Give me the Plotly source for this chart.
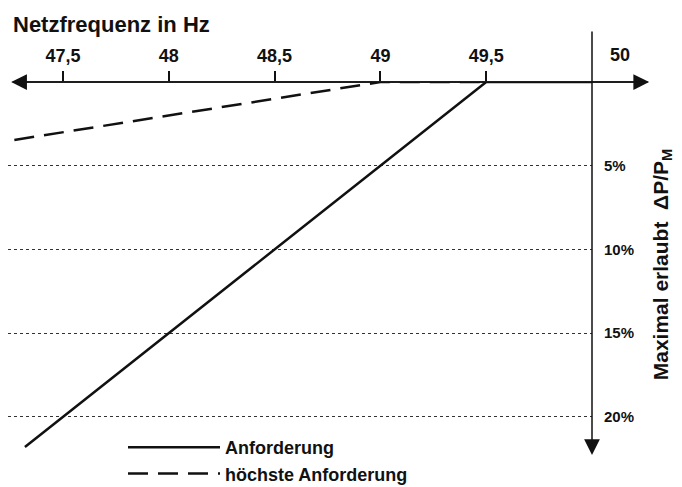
import plotly.graph_objects as go

# frequency (Hz) vs. allowed power reduction (% of P_M)
anf_hz = [47.32, 49.5, 50.0]
anf_pct = [21.8, 0.0, 0.0]
hoechst_hz = [47.27, 49.0, 49.5]
hoechst_pct = [3.46, 0.0, 0.0]

x_ticks = [47.5, 48.0, 48.5, 49.0, 49.5]
x_tick_text = ["47,5", "48", "48,5", "49", "49,5"]
y_ticks = [5, 10, 15, 20]
y_tick_text = ["5%", "10%", "15%", "20%"]

# page body adds an 8px margin, so the figure is 8px smaller than the window
W, H = 674, 479
M = dict(l=0, r=90, t=74, b=34, autoexpand=False)
PLOT_W = W - M["l"] - M["r"]
PLOT_H = H - M["t"] - M["b"]
X_RANGE = [47.24, 50.0]
Y_MAX = 22.16
PX_HZ = PLOT_W / (X_RANGE[1] - X_RANGE[0])
PX_PCT = PLOT_H / Y_MAX
FONT = "Liberation Sans, Arial, sans-serif"
INK = "#111111"


def xp(v):
    return (v - X_RANGE[0]) / (X_RANGE[1] - X_RANGE[0])


def yp(v):
    return 1 - v / Y_MAX


fig = go.Figure()
fig.add_trace(go.Scatter(
    x=anf_hz, y=anf_pct, name="Anforderung", mode="lines",
    line=dict(color=INK, width=2.5),
))
fig.add_trace(go.Scatter(
    x=hoechst_hz, y=hoechst_pct, name="höchste Anforderung", mode="lines",
    line=dict(color=INK, width=2.5, dash="20px,10px"),
))

arrow = dict(text="", showarrow=True, arrowhead=2, arrowsize=2.1, arrowwidth=1.5,
             arrowcolor=INK, xref="paper", yref="paper", axref="pixel", ayref="pixel")
left_tip, right_tip = 47.255, 50.27
fig.add_annotation(x=xp(right_tip), y=1, ax=-(right_tip - left_tip) * PX_HZ, ay=0, **arrow)
fig.add_annotation(x=xp(left_tip), y=1, ax=(right_tip - left_tip) * PX_HZ, ay=0, **arrow)
fig.add_annotation(x=xp(50.0), y=yp(22.28), ax=0, ay=-(22.28 * PX_PCT + 52), **arrow)

fig.add_annotation(x=xp(50.13), y=1, xref="paper", yref="paper", xanchor="center",
                   yanchor="middle", yshift=27, text="50", showarrow=False,
                   font=dict(family=FONT, size=18, color=INK, weight="bold"))
fig.add_annotation(x=1.119, y=0.51, xref="paper", yref="paper", textangle=-90,
                   xanchor="center", yanchor="middle",
                   text="Maximal erlaubt  ΔP/P<sub>M</sub>", showarrow=False,
                   font=dict(family=FONT, size=21, color=INK, weight="bold"))

fig.update_layout(
    width=W, height=H, margin=M,
    paper_bgcolor="white", plot_bgcolor="white",
    font=dict(family=FONT, color=INK),
    title=dict(text="Netzfrequenz in Hz", xref="container", x=5 / W, xanchor="left",
               y=1 - 16 / H, yanchor="middle",
               font=dict(family=FONT, size=22, color=INK, weight="bold")),
    showlegend=True,
    legend=dict(x=115 / PLOT_W, y=(H - M["b"] - 421) / PLOT_H,
                xanchor="left", yanchor="top", itemwidth=92, bgcolor="rgba(0,0,0,0)",
                tracegroupgap=0,
                font=dict(family=FONT, size=18, color=INK, weight="bold")),
    xaxis=dict(range=X_RANGE, side="top", ticks="outside", ticklen=10, tickwidth=1.5,
               tickcolor=INK, tickvals=x_ticks, ticktext=x_tick_text, ticklabelstandoff=2,
               tickfont=dict(family=FONT, size=18, color=INK, weight="bold"),
               showline=False, showgrid=False, zeroline=False, fixedrange=True),
    yaxis=dict(range=[Y_MAX, 0], side="right", ticks="", tickvals=y_ticks,
               ticktext=y_tick_text, ticklabelstandoff=11,
               tickfont=dict(family=FONT, size=15, color=INK, weight="bold"),
               showgrid=True, gridcolor="#333333", griddash="dot", gridwidth=1,
               showline=False, zeroline=False, fixedrange=True),
)

fig.write_html("out.html")
